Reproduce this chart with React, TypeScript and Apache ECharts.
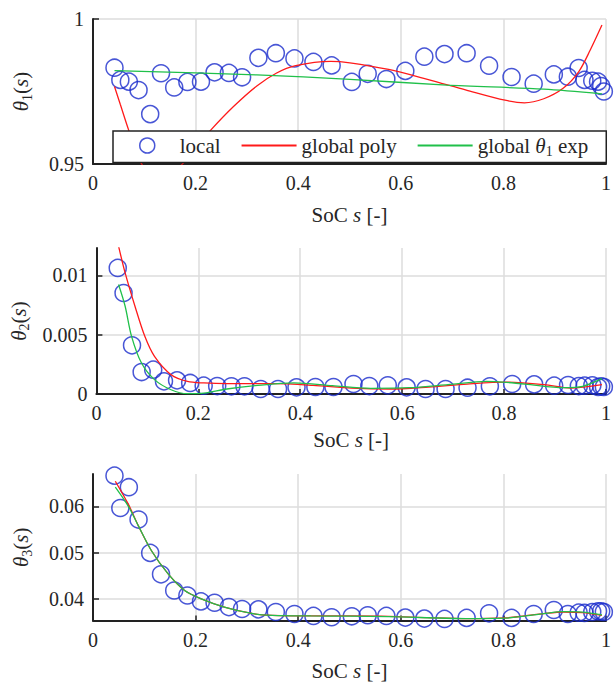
import React, { useEffect, useRef } from "react";
import * as echarts from "echarts";

// SoC sample points of the local fits
const soc = [0.0419, 0.0533, 0.0699, 0.0888, 0.1115, 0.1326, 0.1583, 0.184, 0.2105, 0.237, 0.2649, 0.2906, 0.3224, 0.3564, 0.3927, 0.4297, 0.4652, 0.5045, 0.5355, 0.5718, 0.6088, 0.6459, 0.6852, 0.7283, 0.7721, 0.8159, 0.859, 0.8983, 0.9256, 0.9467, 0.958, 0.9732, 0.9845, 0.9906, 0.9958];

const theta1Local = [0.9832, 0.979, 0.9784, 0.9755, 0.9672, 0.9813, 0.9764, 0.9783, 0.9784, 0.9816, 0.9814, 0.9799, 0.9866, 0.9882, 0.9864, 0.9852, 0.984, 0.9783, 0.9811, 0.9793, 0.9821, 0.987, 0.9879, 0.9882, 0.9839, 0.98, 0.9777, 0.9809, 0.9801, 0.9831, 0.979, 0.9787, 0.9784, 0.9769, 0.975];
const theta2Local = [0.01062, 0.00851, 0.0041, 0.00185, 0.00205, 0.00107, 0.00115, 0.00093, 0.0007, 0.00067, 0.00065, 0.00065, 0.00042, 0.00042, 0.00056, 0.00059, 0.00059, 0.00084, 0.00067, 0.00073, 0.00056, 0.00042, 0.00042, 0.00053, 0.00065, 0.00084, 0.00081, 0.0007, 0.00076, 0.00067, 0.0007, 0.00073, 0.00059, 0.00065, 0.00059];
const theta3Local = [0.06664, 0.05964, 0.06414, 0.05714, 0.04993, 0.04529, 0.04179, 0.04071, 0.03943, 0.03914, 0.03821, 0.03779, 0.03771, 0.03714, 0.03671, 0.03629, 0.036, 0.03621, 0.03643, 0.03629, 0.03593, 0.03571, 0.03564, 0.03586, 0.03686, 0.03586, 0.03671, 0.03757, 0.03671, 0.037, 0.03693, 0.03714, 0.03729, 0.03729, 0.03714];

// global polynomial fit, theta1
const sPoly1 = [0.0419, 0.0533, 0.0699, 0.09, 0.11, 0.13, 0.15, 0.18, 0.2, 0.2286, 0.2739, 0.3193, 0.3571, 0.395, 0.463, 0.5008, 0.5763, 0.6519, 0.7276, 0.8031, 0.8409, 0.8787, 0.9164, 0.9467, 0.9693, 0.9921];
const poly1 = [0.9767, 0.9705, 0.9615, 0.9515, 0.947, 0.9455, 0.9465, 0.951, 0.9555, 0.9615, 0.9698, 0.9769, 0.9813, 0.9839, 0.9854, 0.9849, 0.9826, 0.9792, 0.9755, 0.972, 0.9711, 0.9725, 0.9761, 0.9818, 0.9893, 0.9979];
// global exponential fit, theta1
const sExp1 = [0.0419, 0.3193, 0.5008, 0.6897, 0.8787, 0.9921];
const exp1 = [0.9822, 0.9807, 0.9792, 0.9772, 0.9758, 0.9742];

// theta2
const sPoly2 = [0.0435, 0.0564, 0.0757, 0.095, 0.114, 0.1465, 0.1787, 0.211, 0.256, 0.3496, 0.4251, 0.5008, 0.5763, 0.6519, 0.7276, 0.8031, 0.8787, 0.93, 0.9921];
const poly2 = [0.01245, 0.0102, 0.00739, 0.00486, 0.00317, 0.00163, 0.00106, 0.00093, 0.00087, 0.00087, 0.00073, 0.0005, 0.00042, 0.00059, 0.00084, 0.001, 0.00079, 0.0005, 0.00079];
const sExp2 = [0.0435, 0.0564, 0.069, 0.0885, 0.114, 0.1465, 0.1787, 0.211, 0.256, 0.3117, 0.3874, 0.463, 0.5386, 0.6141, 0.6897, 0.7653, 0.8409, 0.9164, 0.9542, 0.9921];
const exp2 = [0.00922, 0.00739, 0.00486, 0.00261, 0.00121, 0.00036, 0.00003, 0.00008, 0.00042, 0.0007, 0.00093, 0.0007, 0.00048, 0.00053, 0.00079, 0.00107, 0.00084, 0.00053, 0.00065, 0.00129];

// theta3
const sPoly3 = [0.0435, 0.069, 0.0885, 0.114, 0.1465, 0.1787, 0.211, 0.256, 0.3117, 0.3496, 0.4251, 0.5008, 0.5763, 0.6519, 0.7276, 0.8031, 0.8409, 0.8787, 0.9164, 0.9542, 0.9921];
const poly3 = [0.06544, 0.06043, 0.05577, 0.05039, 0.04538, 0.04178, 0.04, 0.03821, 0.03679, 0.03643, 0.03629, 0.03629, 0.03621, 0.03593, 0.03571, 0.03586, 0.03629, 0.03679, 0.03714, 0.037, 0.03643];
const sExp3 = [0.0435, 0.069, 0.0885, 0.114, 0.1465, 0.1787, 0.211, 0.256, 0.3117, 0.3496, 0.4251, 0.5008, 0.5763, 0.6519, 0.7276, 0.8031, 0.8409, 0.8787, 0.9164, 0.9542, 0.9921];
const exp3 = [0.06415, 0.06, 0.05577, 0.05039, 0.04538, 0.04178, 0.04, 0.03821, 0.03679, 0.03643, 0.03629, 0.03625, 0.03615, 0.0359, 0.03571, 0.0358, 0.03625, 0.0368, 0.0372, 0.0371, 0.0365];

// axes
const xTicks = [0, 0.2, 0.4, 0.6, 0.8, 1];
const y1Ticks = [0.95, 1];
const y2Ticks = [0, 0.005, 0.01];
const y3Ticks = [0.04, 0.05, 0.06];
const yRanges = [
  [0.95, 1],
  [0, 0.0123],
  [0.0353, 0.067],
];

const FONT = "Liberation Serif";
const TXT = "#262626";
const AX = "#222222";
const GRIDC = "#dcdcdc";
const BLUE = "#1a2ccc";
const RED = "#ff1a1a";
const GREEN = "#20c04a";

const pairs = (xs: number[], ys: number[]) => xs.map((x, i) => [x, ys[i]]);

const richBase = {
  n: { fontFamily: FONT, fontSize: 21, color: TXT, lineHeight: 26 },
  i: { fontFamily: FONT, fontSize: 21, color: TXT, fontStyle: "italic", lineHeight: 26 },
  s: { fontFamily: FONT, fontSize: 14, color: TXT, lineHeight: 14, verticalAlign: "bottom" },
  t: { fontFamily: FONT, fontSize: 20, color: TXT },
};

const tickFmt = (v: number) => `{t|${String(+v.toFixed(5))}}`;

export default function App() {
  const ref = useRef<HTMLDivElement>(null);
  useEffect(() => {
    if (!ref.current) return;
    const chart = echarts.init(ref.current, undefined, { renderer: "svg" });
    const gridTops = [19, 248, 474];
    const gridHeights = [145, 146, 148];
    const xNameGaps = [38, 33, 37];
    const subs = ["1", "2", "3"];
    const yTicks = [y1Ticks, y2Ticks, y3Ticks];
    const locals = [theta1Local, theta2Local, theta3Local];
    const polys = [pairs(sPoly1, poly1), pairs(sPoly2, poly2), pairs(sPoly3, poly3)];
    const exps = [pairs(sExp1, exp1), pairs(sExp2, exp2), pairs(sExp3, exp3)];

    const grid = gridTops.map((t, i) => ({ left: 93, right: 3, top: t, height: gridHeights[i] }));
    const xAxis = gridTops.map((_, i) => ({
      type: "value",
      gridIndex: i,
      min: 0,
      max: 1,
      interval: 0.2,
      name: "{n|SoC }{i|s}{n| [-]}",
      nameLocation: "middle",
      nameGap: xNameGaps[i],
      nameTextStyle: { rich: richBase },
      axisLine: { show: true, lineStyle: { color: AX, width: 2 } },
      axisTick: { show: true, inside: true, length: 5, lineStyle: { color: AX, width: 1.5 }, customValues: xTicks },
      axisLabel: {
        fontFamily: FONT,
        fontSize: 20,
        color: TXT,
        margin: 9,
        customValues: xTicks,
        formatter: tickFmt,
        rich: richBase,
      },
      splitLine: { show: true, lineStyle: { color: GRIDC, width: 1.5 } },
    }));
    const yAxis = gridTops.map((_, i) => ({
      type: "value",
      gridIndex: i,
      min: yRanges[i][0],
      max: yRanges[i][1],
      name: `{i|θ}{s|${subs[i]}}{n|(}{i|s}{n|)}`,
      nameLocation: "middle",
      nameGap: 59,
      nameRotate: 90,
      nameTextStyle: { rich: richBase },
      axisLine: { show: true, lineStyle: { color: AX, width: 2 } },
      axisTick: { show: true, inside: true, length: 6, lineStyle: { color: AX, width: 1.5 }, customValues: yTicks[i] },
      axisLabel: {
        fontFamily: FONT,
        fontSize: 20,
        color: TXT,
        margin: 9,
        customValues: yTicks[i],
        formatter: tickFmt,
        rich: richBase,
      },
      splitLine: { show: true, lineStyle: { color: GRIDC, width: 1.5 } },
    }));

    const series: any[] = [];
    gridTops.forEach((_, i) => {
      series.push({
        type: "scatter",
        name: "local",
        xAxisIndex: i,
        yAxisIndex: i,
        data: pairs(soc, locals[i]),
        symbol: "circle",
        symbolSize: 17,
        itemStyle: { color: "rgba(0,0,0,0)", borderColor: BLUE, borderWidth: 1.5 },
        z: 2,
      });
      series.push({
        type: "line",
        name: "global poly",
        xAxisIndex: i,
        yAxisIndex: i,
        data: polys[i],
        showSymbol: false,
        symbol: "none",
        smooth: 0.3,
        clip: true,
        lineStyle: { color: RED, width: 1.3 },
        itemStyle: { color: RED },
        z: 3,
      });
      series.push({
        type: "line",
        name: "global θ1 exp",
        xAxisIndex: i,
        yAxisIndex: i,
        data: exps[i],
        showSymbol: false,
        symbol: "none",
        smooth: 0.3,
        clip: true,
        lineStyle: { color: GREEN, width: 1.3 },
        itemStyle: { color: GREEN },
        z: 3,
      });
    });

    chart.setOption({
      animation: false,
      grid,
      xAxis,
      yAxis,
      legend: {
        left: 113,
        top: 131,
        width: 560,
        orient: "horizontal",
        itemWidth: 55,
        itemHeight: 15,
        itemGap: 20,
        padding: [4, 18, 4, 26],
        backgroundColor: "#ffffff",
        borderColor: AX,
        borderWidth: 1.5,
        borderRadius: 0,
        z: 10,
        data: [
          { name: "local", icon: "circle", itemStyle: { color: "rgba(0,0,0,0)", borderColor: BLUE, borderWidth: 1.5 } },
          { name: "global poly", itemStyle: { opacity: 0 } },
          { name: "global θ1 exp", itemStyle: { opacity: 0 } },
        ],
        formatter: (name: string) =>
          name === "global θ1 exp" ? "{n|global }{i|θ}{s|1}{n| exp}" : `{n|${name}}`,
        textStyle: { fontFamily: FONT, fontSize: 21, color: TXT, rich: richBase },
      },
      series,
    });
    return () => chart.dispose();
  }, []);
  return (
    <div
      ref={ref}
      style={{ position: "fixed", left: 0, top: 0, width: 614, height: 682, background: "#ffffff" }}
    />
  );
}
